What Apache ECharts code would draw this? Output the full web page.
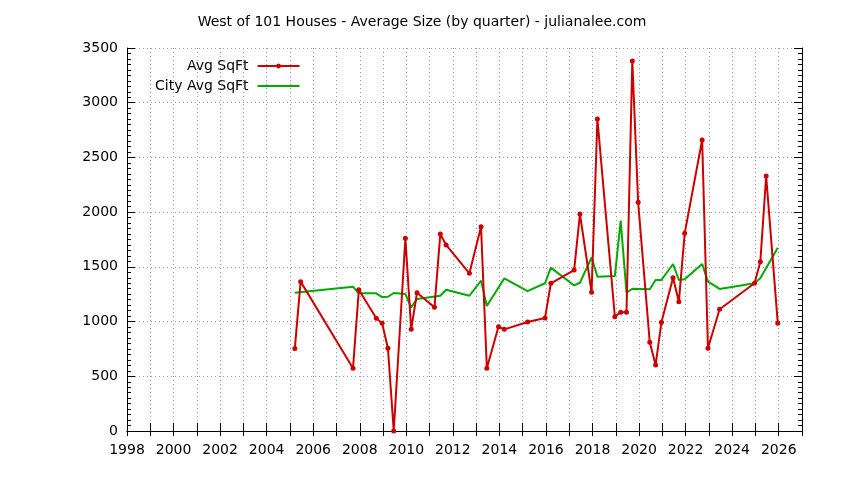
<!DOCTYPE html>
<html>
<head>
<meta charset="utf-8">
<script src="https://cdn.jsdelivr.net/npm/echarts@6/dist/echarts.min.js"></script>
<style>
html,body{margin:0;padding:0;background:#fff;}
#chart{width:844px;height:480px;}
</style>
</head>
<body>
<div id="chart"></div>
<script>
// Avg SqFt (West of 101), decimal year positions
var avgYears = [2005.21, 2005.46, 2007.71, 2007.96, 2008.71, 2008.96, 2009.21, 2009.46, 2009.96, 2010.21,
  2010.46, 2011.21, 2011.46, 2011.71, 2012.71, 2013.21, 2013.46, 2013.96, 2014.21, 2015.21,
  2015.96, 2016.21, 2017.21, 2017.46, 2017.96, 2018.21, 2018.96, 2019.21, 2019.46, 2019.71,
  2019.96, 2020.46, 2020.71, 2020.96, 2021.46, 2021.71, 2021.96, 2022.71, 2022.96, 2023.46,
  2024.96, 2025.21, 2025.46, 2025.96];
var avgSqFt = [755, 1365, 573, 1290, 1030, 984, 756, 0, 1761, 929,
  1264, 1130, 1800, 1700, 1441, 1867, 573, 953, 929, 996,
  1033, 1350, 1471, 1983, 1267, 2851, 1045, 1085, 1085, 3381,
  2090, 811, 603, 993, 1401, 1182, 1806, 2659, 756, 1112,
  1350, 1547, 2330, 984];

// City Avg SqFt
var cityYears = [2005.21, 2007.71, 2007.96, 2008.71, 2008.96, 2009.21, 2009.46, 2009.96, 2010.21, 2010.46,
  2011.46, 2011.71, 2012.71, 2013.21, 2013.46, 2014.21, 2015.21, 2015.96, 2016.21, 2017.21,
  2017.46, 2017.96, 2018.21, 2018.96, 2019.21, 2019.46, 2019.71, 2020.46, 2020.71, 2020.96,
  2021.46, 2021.71, 2021.96, 2022.71, 2022.96, 2023.46, 2024.96, 2025.21, 2025.96];
var citySqFt = [1264, 1319, 1258, 1258, 1224, 1227, 1261, 1252, 1130, 1206,
  1236, 1291, 1236, 1374, 1142, 1395, 1279, 1350, 1493, 1330,
  1355, 1587, 1410, 1416, 1922, 1264, 1300, 1296, 1380, 1380,
  1526, 1380, 1386, 1526, 1365, 1298, 1350, 1395, 1675];

var seriesNames = ['Avg SqFt', 'City Avg SqFt'];
var titleText = 'West of 101 Houses - Average Size (by quarter) - julianalee.com';

function pairs(xs, ys) {
  var out = [];
  for (var i = 0; i < xs.length; i++) out.push([xs[i], ys[i]]);
  return out;
}

var FONT = 'DejaVu Sans';
var FS = 14;
var gridDots = { color: '#a0a0a0', width: 1, type: [1, 3] };
var RED = '#cc0000', GREEN = '#00aa00';

// legend glyphs: a 42px line, the first with a small dot marker in its middle
var lineIcon = 'path://M0,1.5L42,1.5L42,3.5L0,3.5Z';
var dotLineIcon = 'path://M0,1.5L42,1.5L42,3.5L0,3.5Z' +
  'M21,0L22.8,0.7L23.5,2.5L22.8,4.3L21,5L19.2,4.3L18.5,2.5L19.2,0.7Z';

var chart = echarts.init(document.getElementById('chart'), null, { renderer: 'canvas' });
chart.setOption({
  animation: false,
  backgroundColor: '#ffffff',
  title: {
    text: titleText,
    left: 'center',
    top: 10,
    textStyle: { fontFamily: FONT, fontSize: FS, fontWeight: 'normal', color: '#000' }
  },
  legend: {
    data: [
      { name: seriesNames[0], icon: dotLineIcon, itemStyle: { color: RED, borderWidth: 0 } },
      { name: seriesNames[1], icon: lineIcon, itemStyle: { color: GREEN, borderWidth: 0 } }
    ],
    orient: 'vertical',
    align: 'right',
    left: 155,
    top: 59,
    padding: 0,
    itemWidth: 42,
    itemHeight: 14,
    itemGap: 6,
    textStyle: { fontFamily: FONT, fontSize: FS, color: '#000', padding: [0, 4, 0, 0] }
  },
  grid: { left: 127, top: 48, width: 675, height: 383, containLabel: false },
  xAxis: [{
    type: 'value', min: 1998, max: 2027, interval: 1, position: 'bottom',
    axisLine: { show: true, lineStyle: { color: '#000', width: 1 } },
    axisTick: { show: true, inside: true, length: 8, lineStyle: { color: '#000' } },
    axisLabel: {
      margin: 12, color: '#000', fontFamily: FONT, fontSize: FS,
      formatter: function (v) { return (v % 2 === 0 && v <= 2026) ? String(v) : ''; }
    },
    splitLine: { show: true, lineStyle: gridDots }
  }, {
    type: 'value', min: 1998, max: 2027, interval: 1, position: 'top',
    axisLine: { show: true, lineStyle: { color: '#000', width: 1 } },
    axisTick: { show: true, inside: true, length: 5, lineStyle: { color: '#000' } },
    axisLabel: { show: false },
    splitLine: { show: false }
  }],
  yAxis: [{
    type: 'value', min: 0, max: 3500, interval: 500, position: 'left',
    axisLine: { show: true, lineStyle: { color: '#000', width: 1 } },
    axisTick: { show: true, inside: true, length: 8, lineStyle: { color: '#000' } },
    minorTick: { show: true, splitNumber: 10, length: 4, lineStyle: { color: '#000' } },
    axisLabel: {
      margin: 9, color: '#000', fontFamily: FONT, fontSize: FS,
      formatter: function (v) { return String(v); }
    },
    splitLine: { show: true, lineStyle: gridDots }
  }, {
    type: 'value', min: 0, max: 3500, interval: 500, position: 'right',
    axisLine: { show: true, lineStyle: { color: '#000', width: 1 } },
    axisTick: { show: true, inside: true, length: 8, lineStyle: { color: '#000' } },
    minorTick: { show: true, splitNumber: 10, length: 4, lineStyle: { color: '#000' } },
    axisLabel: { show: false },
    splitLine: { show: false }
  }],
  series: [{
    name: seriesNames[0],
    type: 'line',
    xAxisIndex: 0, yAxisIndex: 0,
    data: pairs(avgYears, avgSqFt),
    symbol: 'circle', symbolSize: 5, showAllSymbol: true,
    itemStyle: { color: RED },
    lineStyle: { color: RED, width: 2 },
    z: 3
  }, {
    name: seriesNames[1],
    type: 'line',
    xAxisIndex: 0, yAxisIndex: 0,
    data: pairs(cityYears, citySqFt),
    symbol: 'none',
    itemStyle: { color: GREEN },
    lineStyle: { color: GREEN, width: 2 },
    z: 2
  }]
});
</script>
</body>
</html>
